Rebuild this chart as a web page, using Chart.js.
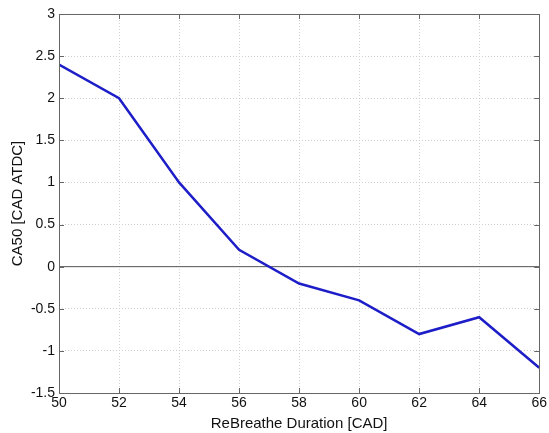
<!DOCTYPE html>
<html>
<head>
<meta charset="utf-8">
<script src="https://cdn.jsdelivr.net/npm/chart.js@4"></script>
<style>
  html, body { margin: 0; padding: 0; background: #fff; }
  #wrap { width: 549px; height: 433px; }
</style>
</head>
<body>
<div id="wrap"><canvas id="chart" width="549" height="433"></canvas></div>
<script>
const duration = [50, 52, 54, 56, 58, 60, 62, 64, 66];
const ca50 = [2.4, 2.0, 1.0, 0.2, -0.2, -0.4, -0.8, -0.6, -1.2];
const zeroLine = [0, 0];
const xRange = [50, 66];

const font = { family: "Arial, 'Liberation Sans', sans-serif", size: 14 };
const titleFont = { family: "Arial, 'Liberation Sans', sans-serif", size: 15 };

// box round the axes plus inward ticks, MATLAB style
const boxPlugin = {
  id: "box",
  afterDraw(chart) {
    const ctx = chart.ctx;
    const a = chart.chartArea;
    const xs = chart.scales.x, ys = chart.scales.y;
    ctx.save();
    ctx.strokeStyle = "#666";
    ctx.lineWidth = 1;
    ctx.beginPath();
    xs.ticks.forEach(t => {
      const px = Math.round(xs.getPixelForValue(t.value)) + 0.5;
      ctx.moveTo(px, a.bottom); ctx.lineTo(px, a.bottom - 5);
      ctx.moveTo(px, a.top); ctx.lineTo(px, a.top + 5);
    });
    ys.ticks.forEach(t => {
      const py = Math.round(ys.getPixelForValue(t.value)) + 0.5;
      ctx.moveTo(a.left, py); ctx.lineTo(a.left + 5, py);
      ctx.moveTo(a.right, py); ctx.lineTo(a.right - 5, py);
    });
    ctx.stroke();
    ctx.strokeRect(Math.round(a.left) + 0.5, Math.round(a.top) + 0.5,
      Math.round(a.right - a.left), Math.round(a.bottom - a.top));
    ctx.restore();
  }
};

const chart = new Chart(document.getElementById("chart"), {
  type: "line",
  data: {
    datasets: [
      {
        data: duration.map((d, i) => ({ x: d, y: ca50[i] })),
        borderColor: "#1e1ec8",
        borderWidth: 2.5,
        pointRadius: 0,
        tension: 0,
      },
      {
        data: xRange.map((d, i) => ({ x: d, y: zeroLine[i] })),
        borderColor: "#555",
        borderWidth: 1,
        pointRadius: 0,
      },
    ],
  },
  plugins: [boxPlugin],
  options: {
    responsive: false,
    animation: false,
    layout: { padding: { left: 0, right: 8, top: 14, bottom: 0 } },
    plugins: {
      legend: { display: false },
      tooltip: { enabled: false },
    },
    scales: {
      x: {
        type: "linear",
        min: 50,
        max: 66,
        afterFit: s => { s.height = 40; },
        ticks: { stepSize: 2, color: "#111", font: font, padding: 2 },
        grid: { color: "#d0d0d0", drawTicks: false, tickLength: 0 },
        border: { display: false, dash: [1, 2] },
        title: {
          display: true,
          text: "ReBreathe Duration [CAD]",
          color: "#111",
          font: titleFont,
          padding: { top: 0, bottom: 0 },
        },
      },
      y: {
        min: -1.5,
        max: 3,
        afterFit: s => { s.width = 59; },
        ticks: {
          stepSize: 0.5,
          color: "#111",
          font: font,
          padding: 4,
          callback: v => String(Math.round(v * 10) / 10),
        },
        grid: { color: "#d0d0d0", drawTicks: false, tickLength: 0 },
        border: { display: false, dash: [1, 2] },
        title: {
          display: true,
          text: "CA50 [CAD ATDC]",
          color: "#111",
          font: titleFont,
          padding: { top: 9, bottom: 0 },
        },
      },
    },
  },
});
</script>
</body>
</html>
